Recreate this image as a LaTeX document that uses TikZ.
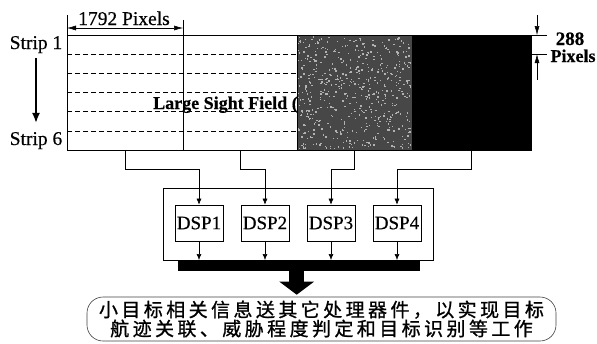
\documentclass[tikz,border=0pt]{standalone}
\usepackage{fontspec}
\setmainfont[FakeBold=0.5]{Liberation Serif}
\newfontfamily\cjk[LetterSpace=18,FakeBold=1]{Noto Sans CJK SC}
\usetikzlibrary{arrows.meta,calc}
\begin{document}
\begin{tikzpicture}[x=1pt,y=-1pt,
  col/.style={draw,line width=0.9pt,inner sep=0pt,outer sep=0pt,anchor=north west,minimum height=115pt},
  dsp/.style={draw,line width=0.7pt,inner sep=0pt,minimum width=48pt,minimum height=36pt,font=\fontsize{19}{19}\selectfont},
  lbl/.style={inner sep=0pt,font=\fontsize{19.5}{19.5}\selectfont},
  conn/.style={line width=0.6pt,-{Latex[length=6pt,width=5pt]}},
  thin/.style={line width=0.5pt},
  strips/.style={line width=0.7pt,dash pattern=on 5pt off 3pt}]
\useasboundingbox (0,0) rectangle (597,343);
% image columns
\node[col,minimum width=116pt] (c1) at (67,35) {};
\node[col,minimum width=114pt] (c2) at (183,35) {};
\foreach \k in {1,...,5}{\draw[strips] (67,35+19.17*\k) -- (297,35+19.17*\k);}
\node[inner sep=0pt,anchor=base west,font=\bfseries\fontsize{18}{18}\selectfont] (lsf) at (153,109) {Large Sight Field (};
\node[col,minimum width=115pt,fill=black!72] (c3) at (297,35) {};
\pgfmathsetseed{42}
\foreach \i in {1,...,550}{\pgfmathsetmacro\px{297+113*rnd}\pgfmathsetmacro\py{36+112*rnd}\fill[black!30] (\px,\py) rectangle ++(1.4,1.4);}
\node[col,minimum width=119pt,fill=black] (c4) at (412,35) {};
% strip labels
\node[lbl,anchor=base] (s1) at (36,49) {Strip 1};
\node[lbl,anchor=base] (s6) at (36,145) {Strip 6};
\draw[line width=1.6pt,-{Latex[length=10pt,width=8pt]},shorten <=5pt,shorten >=9pt] (s1.south) -- (s6.north);
% 1792 pixels
\node[lbl,anchor=base] (w) at (124,25) {1792 Pixels};
\draw[thin] (c1.north west) -- ++(0,-20);
\draw[thin] (c2.north west) -- ++(0,-15);
\draw[thin,{Latex[length=9pt,width=5pt]}-{Latex[length=9pt,width=5pt]}] ($(c1.north west)+(0,-7)$) -- ($(c1.north east)+(0,-7)$);
% 288 pixels
\coordinate (t0) at (537,15);
\coordinate (t1) at (537,35);
\coordinate (t2) at (537,54.2);
\coordinate (t3) at (537,80);
\draw[thin] (c4.north east) -- (547,35);
\draw[thin] (531,54.2) -- (547,54.2);
\draw[thin,-{Latex[length=9pt,width=5pt]}] (t0) -- (t1);
\draw[thin,-{Latex[length=9pt,width=5pt]}] (t3) -- (t2);
\node[lbl,anchor=base,font=\bfseries\fontsize{19}{19}\selectfont] (h1) at (570,45) {288};
\node[lbl,anchor=base,font=\bfseries\fontsize{18}{18}\selectfont] (h2) at (573,62) {Pixels};
% processor board
\node[draw,line width=0.7pt,inner sep=0pt,anchor=north west,minimum width=270pt,minimum height=72pt] (proc) at (163,188) {};
\node[dsp] (d1) at (199,223) {DSP1};
\node[dsp] (d2) at (265,223) {DSP2};
\node[dsp] (d3) at (331,223) {DSP3};
\node[dsp] (d4) at (397,223) {DSP4};
\node[fill=black,inner sep=0pt,anchor=north west,minimum width=242pt,minimum height=11pt] (bar) at (178,260) {};
\draw[conn] (c1.south) -- ++(0,19) -| (d1.north);
\draw[conn] (c2.south) -- ++(0,19) -| (d2.north);
\draw[conn] (c3.south) -- ++(0,19) -| (d3.north);
\draw[conn] (c4.south) -- ++(0,19) -| (d4.north);
\foreach \d in {d1,d2,d3,d4}{\draw[conn] (\d.south) -- (\d.south |- bar.north);}
% message
\node[draw=black!75,line width=0.6pt,rounded corners=16pt,minimum width=469pt,minimum height=44pt,inner sep=0pt,align=center,font=\cjk\fontsize{19}{19}\selectfont] (msg) at (321.5,319) {小目标相关信息送其它处理器件，以实现目标\\航迹关联、威胁程度判定和目标识别等工作};
\draw[line width=15pt,-{Triangle[length=13pt,width=34pt]},shorten >=2pt] ($(bar.south)+(-2.5,0)$) -- ($(bar.south |- msg.north)+(-2.5,0)$);
\end{tikzpicture}
\end{document}
